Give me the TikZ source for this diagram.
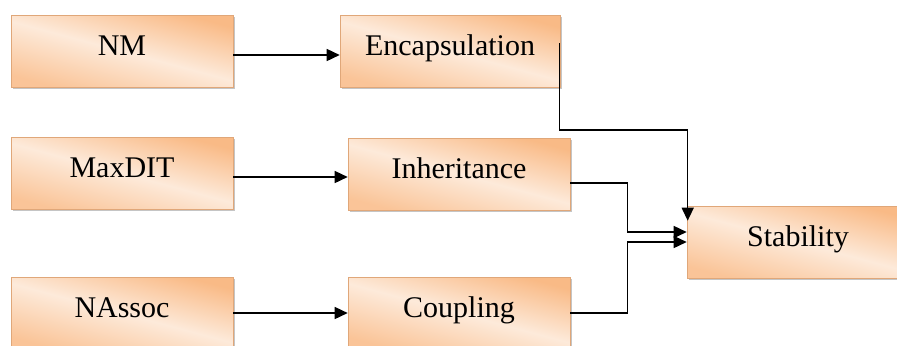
\documentclass[tikz,border=0pt]{standalone}
\usepackage{fontspec}
\setmainfont{Liberation Serif}
\usetikzlibrary{arrows.meta,shadows,calc}

\definecolor{boxedge}{RGB}{249,186,134}
\definecolor{boxlight}{RGB}{253,234,218}

\begin{document}
\begin{tikzpicture}[x=0.5pt,y=0.5pt,
  factor/.style={rectangle, draw=boxedge!90!black, line width=0.3pt,
    top color=boxedge, bottom color=boxedge!85!white, middle color=boxlight,
    shading angle=-15, minimum width=111pt, inner xsep=0pt, inner ysep=0pt,
    text height=20pt, text depth=16pt, font=\fontsize{15}{18}\selectfont,
    drop shadow={shadow xshift=1.2pt, shadow yshift=-1.2pt, fill=black!45, opacity=0.5}},
  link/.style={line width=0.75pt, -{Triangle[length=6.5pt,width=6pt]}}]
  \useasboundingbox (0,0) rectangle (897,345);
  \clip (0,0) rectangle (897,345);
  % metrics
  \node[factor] (nm) at (122,294) {NM};
  \node[factor] (maxdit) at (122,172) {MaxDIT};
  \node[factor] (nassoc) at (122,32) {NAssoc};
  % characteristics
  \node[factor, minimum width=110pt] (enc) at (450,294) {Encapsulation};
  \node[factor] (inh) at (459,171) {Inheritance};
  \node[factor] (cpl) at (459,32) {Coupling};
  % quality attribute
  \node[factor] (stab) at (798,103) {Stability};
  \draw[link] ($(nm.east)+(0,-4)$) -- ($(enc.west)+(0,-4)$);
  \draw[link] ($(maxdit.east)+(0,-4)$) -- ($(inh.west)+(0,-3)$);
  \draw[link] (nassoc.east) -- (cpl.west);
  \draw[link] ($(enc.east)+(-1,8)$) -- ++(0,-87) -| ($(stab.north west)+(1,-15)$);
  \draw[link] ($(inh.east)+(0,-9)$) -| ($(stab.west)+(-59,10)$) -- ($(stab.west)+(0,10)$);
  \draw[link] (cpl.east) -| ($(stab.west)+(-59,0)$) -- (stab.west);
\end{tikzpicture}
\end{document}
